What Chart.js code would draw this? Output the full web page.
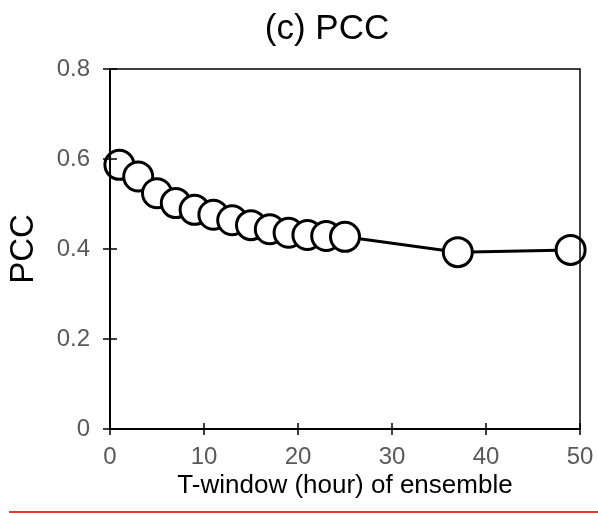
<!DOCTYPE html>
<html>
<head>
<meta charset="utf-8">
<script src="https://cdn.jsdelivr.net/npm/chart.js@4"></script>
<style>
  html, body { margin: 0; padding: 0; background: #fff; }
  #wrap { width: 598px; height: 513px; }
</style>
</head>
<body>
<div id="wrap"><canvas id="pcc"></canvas></div>
<script>
// values
const hours = [1, 3, 5, 7, 9, 11, 13, 15, 17, 19, 21, 23, 25, 37, 49];
const pcc = [0.587, 0.561, 0.524, 0.502, 0.487, 0.476, 0.464, 0.453, 0.444, 0.436, 0.431, 0.429, 0.427, 0.393, 0.398];
const xTicks = [0, 10, 20, 30, 40, 50];
const yTicks = [0, 0.2, 0.4, 0.6, 0.8];

const chartTitle = '(c) PCC';
const xTitle = 'T-window (hour) of ensemble';
const yTitle = 'PCC';

const FONT = "'Liberation Sans', Arial, Helvetica, sans-serif";

// box, cross ticks, title and the red rule under the figure
const framePlugin = {
    id: 'frame',
    afterDatasetsDraw(chart) {
        const ctx = chart.ctx;
        const a = chart.chartArea;
        const xs = chart.scales.x, ys = chart.scales.y;
        ctx.save();
        ctx.strokeStyle = '#000';
        ctx.lineWidth = 1.5;
        ctx.strokeRect(a.left, a.top, a.right - a.left, a.bottom - a.top);
        ctx.lineWidth = 2;
        ctx.beginPath();
        ctx.moveTo(a.left, a.top); ctx.lineTo(a.left, a.bottom); ctx.lineTo(a.right, a.bottom);
        ctx.stroke();
        ctx.lineWidth = 1.5;
        ctx.beginPath();
        xTicks.forEach(v => {
            const px = xs.getPixelForValue(v);
            ctx.moveTo(px, a.bottom - 6); ctx.lineTo(px, a.bottom + 6);
        });
        yTicks.forEach(v => {
            const py = ys.getPixelForValue(v);
            ctx.moveTo(a.left - 7, py); ctx.lineTo(a.left + 7, py);
        });
        ctx.stroke();
        ctx.restore();
    },
    afterDraw(chart) {
        const ctx = chart.ctx;
        ctx.save();
        ctx.fillStyle = '#000';
        ctx.font = '35px ' + FONT;
        ctx.textAlign = 'center';
        ctx.textBaseline = 'middle';
        ctx.fillText(chartTitle, 327, 29);
        ctx.strokeStyle = '#e53935';
        ctx.lineWidth = 2;
        ctx.beginPath();
        ctx.moveTo(9, 512); ctx.lineTo(598, 512);
        ctx.stroke();
        ctx.restore();
    }
};

new Chart(document.getElementById('pcc'), {
    type: 'line',
    data: {
        datasets: [{
            label: yTitle,
            data: hours.map((h, i) => ({ x: h, y: pcc[i] })),
            borderColor: '#000',
            borderWidth: 3,
            backgroundColor: '#fff',
            pointBackgroundColor: '#fff',
            pointBorderColor: '#000',
            pointBorderWidth: 3,
            pointRadius: 14.5,
            pointHoverRadius: 14.5,
            tension: 0,
            clip: false
        }]
    },
    options: {
        responsive: true,
        maintainAspectRatio: false,
        animation: false,
        layout: { padding: { top: 69, right: 18, bottom: 0, left: 0 } },
        plugins: {
            legend: { display: false },
            title: { display: false },
            tooltip: { enabled: false }
        },
        scales: {
            x: {
                type: 'linear',
                min: 0,
                max: 50,
                afterBuildTicks: s => { s.ticks = xTicks.map(v => ({ value: v })); },
                grid: { display: false, drawTicks: false },
                border: { display: false },
                ticks: { color: '#595959', font: { family: FONT, size: 24 }, padding: 14, maxRotation: 0 },
                title: { display: true, text: xTitle, color: '#000', font: { family: FONT, size: 26 }, padding: { top: 0, bottom: 12 } },
                afterFit: s => { s.height = 84; s.paddingLeft = 0; s.paddingRight = 0; }
            },
            y: {
                min: 0,
                max: 0.8,
                afterBuildTicks: s => { s.ticks = yTicks.map(v => ({ value: v })); },
                grid: { display: false, drawTicks: false },
                border: { display: false },
                ticks: { color: '#595959', font: { family: FONT, size: 24 }, padding: 20 },
                title: { display: true, text: yTitle, color: '#000', font: { family: FONT, size: 33 }, padding: { top: 4, bottom: 0 } },
                afterFit: s => { s.width = 110; s.paddingTop = 0; s.paddingBottom = 0; }
            }
        }
    },
    plugins: [framePlugin]
});
</script>
</body>
</html>
